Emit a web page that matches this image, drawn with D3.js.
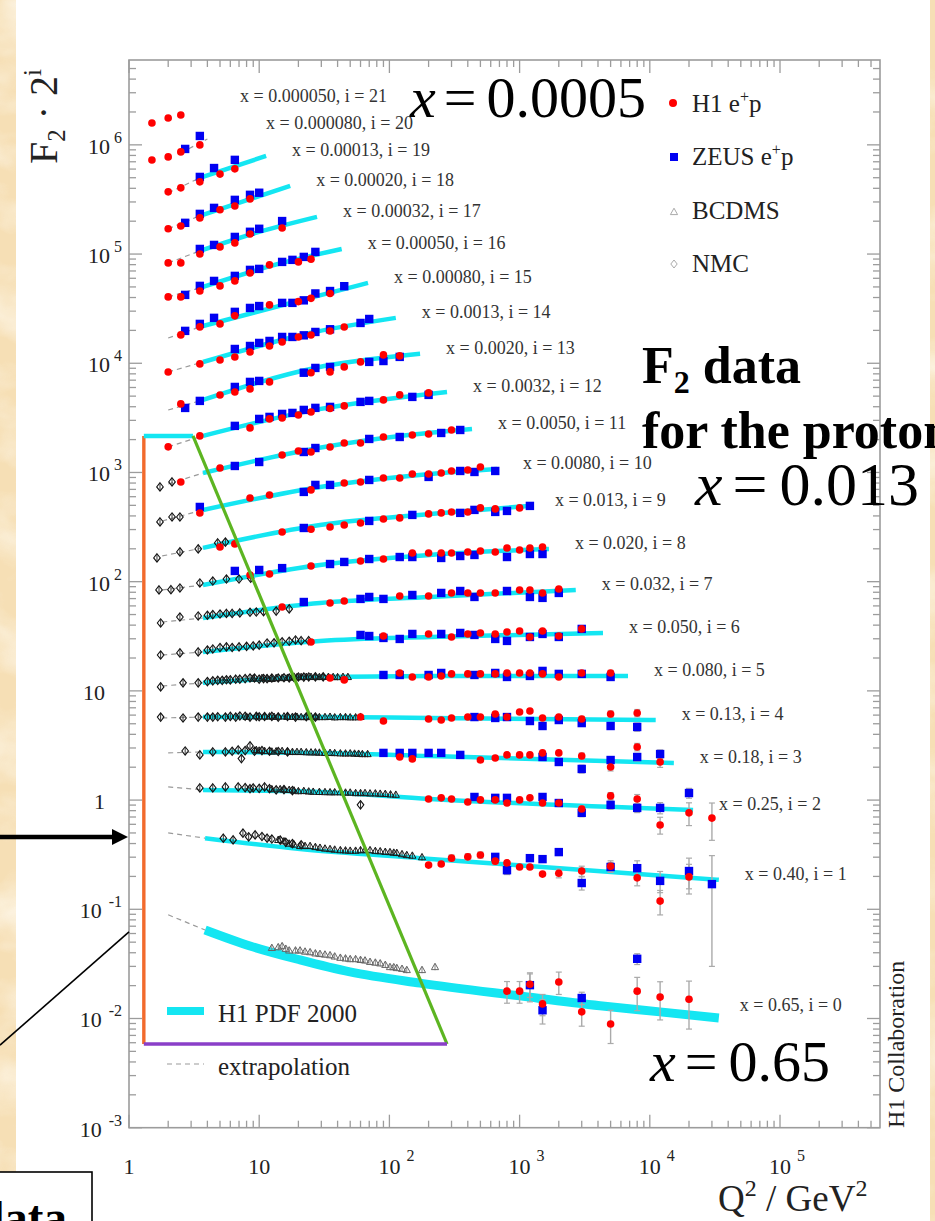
<!DOCTYPE html>
<html><head><meta charset="utf-8">
<script src="https://cdn.jsdelivr.net/npm/d3@7"></script>
<style>
html,body{margin:0;padding:0;background:#f6e0b8;}
svg{display:block;}
text{font-family:"Liberation Serif","Times New Roman",serif;}
</style></head><body>
<svg id="chart" width="935" height="1221"></svg>
<script>
// ---------------- data ----------------
// Bjorken x of each bin; index = i (plotted value is F2 * 2^i)
const binX = ["0.65","0.40","0.25","0.18","0.13","0.080","0.050","0.032","0.020","0.013",
  "0.0080","0.0050","0.0032","0.0020","0.0013","0.00080","0.00050","0.00032","0.00020","0.00013",
  "0.000080","0.000050"];

// H1 e+p : [i, Q2, F2, err]
const h1Points = [
 [21,1.5,0.757],[21,2,0.84],[21,2.5,0.896],
 [20,1.5,0.694],[20,2,0.74],[20,2.5,0.822],[20,3.5,0.953],
 [19,2,0.708],[19,2.5,0.77],[19,3.5,0.874],[19,5,1.03],[19,6.5,1.15],
 [18,2,0.65],[18,2.5,0.69],[18,3.5,0.818],[18,5,0.97],[18,6.5,1.05],[18,8.5,1.22],
 [17,2,0.633],[17,2.5,0.633],[17,3.5,0.765],[17,5,0.887],[17,6.5,0.965],[17,8.5,1.166],[17,15,1.32],
 [16,2,0.618],[16,2.5,0.618],[16,3.5,0.70],[16,5,0.78],[16,6.5,0.866],[16,8.5,1.025],[16,12,1.214],[16,20,1.293],[16,25,1.37],
 [15,2.5,0.555],[15,3.5,0.657],[15,5,0.70],[15,6.5,0.829],[15,12,1.045],[15,20,1.12],[15,25,1.2],[15,35,1.33],
 [14,2,0.508],[14,3.5,0.602],[14,5,0.654],[14,6.5,0.697],[14,8.5,0.775],[14,12,0.879],[14,15,0.957],[14,20,1.063],[14,25,1.109],[14,35,1.206],[14,45,1.313],
 [13,2.5,0.518],[13,5,0.626],[13,6.5,0.667],[13,8.5,0.711],[13,12,0.824],[13,25,1.0],[13,35,1.017],[13,45,1.13],[13,60,1.256],[13,90,1.456],[13,120,1.425],
 [12,2,0.419],[12,3.5,0.528],[12,8.5,0.625],[12,12,0.755],[12,15,0.77],[12,20,0.82],[12,25,0.875],[12,35,0.94],[12,45,0.994],[12,90,1.128],[12,120,1.253],[12,200,1.307],
 [11,2.5,0.40],[11,5,0.537],[11,15,0.706],[11,20,0.768],[11,25,0.752],[11,35,0.836],[11,45,0.909],[11,60,0.909],[11,90,1.032],[11,150,1.077],[11,200,1.1],[11,300,1.196],
 [10,3.5,0.416],[10,8.5,0.57],[10,12,0.608],[10,25,0.676],[10,45,0.783],[10,60,0.80],[10,90,0.87],[10,120,0.87],[10,150,0.947],[10,200,0.947],[10,250,0.967],[10,300,1.008],[10,400,1.03],[10,500,1.097],
 [9,5,0.406],[9,6.5,0.433],[9,15,0.557],[9,25,0.59],[9,35,0.619],[9,45,0.646],[9,60,0.674],[9,90,0.733],[9,120,0.749],[9,200,0.815],[9,250,0.833],[9,300,0.85],[9,400,0.85],[9,500,0.925],[9,650,0.906],[9,1000,0.925],
 [8,8.5,0.45],[8,12,0.459],[8,25,0.544],[8,60,0.604],[8,90,0.63],[8,150,0.715],[8,200,0.715],[8,250,0.715],[8,300,0.715],[8,400,0.73],[8,500,0.746],[8,650,0.73],[8,800,0.795],[8,1000,0.762],[8,1200,0.795],[8,1500,0.812],
 [7,15,0.458],[7,35,0.499],[7,45,0.52],[7,120,0.578],[7,200,0.578],[7,300,0.616],[7,400,0.616],[7,500,0.616],[7,650,0.616],[7,1000,0.656],[7,1200,0.656],[7,1500,0.616],[7,2000,0.67],
 [6,25,0.438],[6,90,0.497],[6,200,0.519],[6,300,0.487],[6,400,0.519],[6,500,0.53],[6,650,0.519],[6,800,0.541],[6,1000,0.553],[6,1200,0.487],[6,1500,0.553],[6,2000,0.497],[6,3000,0.577],
 [5,35,0.41],[5,45,0.394],[5,120,0.456],[5,150,0.419],[5,200,0.419],[5,250,0.428],[5,300,0.447],[5,400,0.447],[5,500,0.447],[5,650,0.447],[5,800,0.456],[5,1000,0.456],[5,1200,0.456],[5,1500,0.447],[5,2000,0.419],[5,3000,0.456],[5,5000,0.456,0.025],
 [4,60,0.36],[4,90,0.331],[4,200,0.345],[4,250,0.338],[4,300,0.353],[4,400,0.36],[4,500,0.36],[4,650,0.384],[4,800,0.36],[4,1000,0.40],[4,1200,0.409],[4,1500,0.353],[4,2000,0.36],[4,3000,0.345,0.02],[4,5000,0.384,0.025],[4,8000,0.392,0.03],
 [3,120,0.31],[3,150,0.298],[3,500,0.291],[3,650,0.304],[3,800,0.324],[3,1000,0.324],[3,1200,0.324],[3,1500,0.338],[3,2000,0.338],[3,3000,0.317,0.02],[3,5000,0.251,0.02],[3,8000,0.383,0.03],[3,12000,0.279,0.03],
 [2,200,0.256],[2,250,0.262],[2,300,0.256],[2,400,0.24],[2,500,0.251],[2,650,0.251],[2,800,0.235],[2,1000,0.251],[2,1200,0.262],[2,1500,0.235],[2,2000,0.235],[2,3000,0.207,0.015],[2,5000,0.273,0.02],[2,8000,0.256,0.025],[2,12000,0.148,0.026],[2,20000,0.191,0.045],[2,30000,0.171,0.064],
 [1,200,0.127],[1,250,0.13],[1,300,0.147,0.01],[1,400,0.151,0.01],[1,500,0.157,0.01],[1,650,0.138,0.01],[1,800,0.133],[1,1000,0.122],[1,1200,0.122],[1,1500,0.105],[1,2000,0.107,0.01],[1,3000,0.112,0.012],[1,5000,0.124,0.015],[1,8000,0.097,0.015],[1,12000,0.0594,0.015],[1,20000,0.099,0.03],
 [0,800,0.0178,0.004],[0,1000,0.0178,0.004],[0,1200,0.0206,0.005],[0,1500,0.0136,0.003],[0,2000,0.0216,0.005],[0,3000,0.0115,0.003],[0,5000,0.0089,0.003],[0,8000,0.0178,0.006],[0,12000,0.0157,0.006],[0,20000,0.0150,0.007]
];

// ZEUS e+p : [i, Q2, F2, err]
const zeusPoints = [
 [20,2.7,0.875],[20,3.5,1.15,0.05],
 [19,3.5,0.97],[19,4.5,1.17],[19,6.5,1.39],
 [18,2.7,0.737],[18,3.5,0.89],[18,4.5,1.01],[18,6.5,1.196],[18,8.5,1.33],[18,10,1.39],
 [17,3.5,0.85],[17,4.5,0.925],[17,6.5,1.095],[17,8.5,1.22],[17,10,1.30],[17,15,1.53],
 [16,2.7,0.645],[16,3.5,0.78],[16,4.5,0.866],[16,6.5,0.963],[16,8.5,1.093],[16,10,1.116],[16,15,1.293],[16,18,1.35],[16,22,1.437],[16,27,1.597],
 [15,2.7,0.604],[15,3.5,0.70],[15,4.5,0.795],[15,6.5,0.902],[15,8.5,0.98],[15,10,1.02],[15,15,1.09],[15,18,1.09],[15,22,1.15],[15,27,1.33],[15,35,1.40],[15,45,1.55],
 [14,6.5,0.825],[14,8.5,0.879],[14,10,0.937],[14,12,0.977],[14,15,1.063],[14,18,1.063],[14,22,1.10],[14,27,1.181],[14,35,1.25],[14,60,1.428],[14,70,1.553],
 [13,2.7,0.476],[13,3.5,0.552],[13,6.5,0.741],[13,8.5,0.824],[13,10,0.841],[13,22,1.0],[13,27,1.106],[13,35,1.13],[13,70,1.256],[13,90,1.28],[13,120,1.396],
 [12,6.5,0.652],[12,10,0.755],[12,12,0.788],[12,15,0.839],[12,18,0.857],[12,22,0.913],[12,27,0.953],[12,35,0.973],[12,60,1.081],[12,70,1.104],[12,150,1.201],[12,200,1.253],
 [11,6.5,0.56],[11,10,0.609],[11,22,0.752],[11,27,0.818],[11,70,0.99],[11,120,1.032],[11,250,1.123],[11,350,1.196],
 [10,3.5,0.472],[10,22,0.648],[10,27,0.751],[10,35,0.751],[10,70,0.834],[10,200,0.889],[10,350,1.008],[10,450,0.987],[10,650,1.008],
 [9,22,0.606],[9,70,0.703],[9,150,0.798],[9,350,0.833],[9,450,0.887],[9,650,0.85],[9,800,0.868],[9,1200,0.965],
 [8,6.5,0.49],[8,10,0.50],[8,15,0.52],[8,35,0.567],[8,45,0.592],[8,70,0.63],[8,120,0.657],[8,150,0.657],[8,250,0.644],[8,350,0.671],[8,450,0.686],[8,800,0.657],[8,1200,0.70],[8,1500,0.70],
 [7,22,0.509],[7,60,0.543],[7,70,0.566],[7,90,0.543],[7,150,0.59],[7,250,0.616],[7,350,0.642],[7,450,0.566],[7,800,0.642],[7,1200,0.566],[7,1500,0.555],[7,2000,0.616],
 [6,60,0.508],[6,70,0.497],[6,90,0.477],[6,120,0.467],[6,150,0.519],[6,250,0.519],[6,350,0.53],[6,450,0.508],[6,650,0.467],[6,800,0.448],[6,1200,0.487],[6,1500,0.519],[6,2000,0.487],[6,3000,0.577],
 [5,90,0.437],[5,120,0.437],[5,200,0.437],[5,250,0.456],[5,450,0.437],[5,650,0.456],[5,800,0.419],[5,1200,0.428],[5,1500,0.476],[5,2000,0.447],[5,3000,0.447],[5,5000,0.419,0.02],
 [4,450,0.36],[4,650,0.353],[4,800,0.36],[4,1200,0.331],[4,1500,0.298,0.015],[4,2000,0.338],[4,3000,0.317,0.015],[4,5000,0.298,0.02],[4,8000,0.292,0.025],
 [3,90,0.338],[3,120,0.338],[3,150,0.338],[3,200,0.338],[3,250,0.338],[3,350,0.324],[3,1500,0.31],[3,2000,0.279],[3,3000,0.241,0.02],[3,5000,0.291,0.02],[3,8000,0.31,0.025],[3,12000,0.33,0.03],
 [2,450,0.267],[2,650,0.262],[2,800,0.262],[2,1500,0.267],[2,2000,0.235],[2,3000,0.191,0.015],[2,5000,0.226,0.02],[2,8000,0.212,0.02],[2,12000,0.212,0.025],[2,20000,0.29,0.03],
 [1,650,0.151],[1,800,0.114,0.01],[1,1200,0.147],[1,1500,0.144],[1,2000,0.167],[1,3000,0.087,0.012],[1,5000,0.122,0.012],[1,8000,0.119,0.02],[1,12000,0.091,0.02],[1,20000,0.112,0.035],[1,30000,0.085,0.07],
 [0,1200,0.0202,0.006],[0,1500,0.0119,0.003],[0,3000,0.0154,0.002],[0,8000,0.0352,0.004]
];

// NMC : [i, Q2, F2]
const nmcPoints = [
 [11,1.73,0.36],[11,2.14,0.40],
 [10,1.73,0.344],[10,2.14,0.382],[10,2.46,0.382],
 [9,1.64,0.322],[9,2.46,0.366],[9,3.4,0.39],[9,4.8,0.442],[9,5.5,0.45],
 [8,1.7,0.328],[8,2.1,0.33],[8,2.46,0.342],[8,3.5,0.38],[8,4.4,0.396],[8,5.6,0.413],[8,7.0,0.413],[8,8.6,0.42],
 [7,1.75,0.327],[7,2.46,0.371],[7,3.4,0.379],[7,4.0,0.385],[7,4.4,0.39],[7,5.0,0.395],[7,5.6,0.40],[7,6.2,0.40],[7,7.1,0.404],[7,8.5,0.41],[7,9.5,0.412],[7,10.8,0.415],[7,13.5,0.42],[7,17,0.44],
 [6,1.75,0.333],[6,2.46,0.348],[6,3.4,0.355],[6,4.0,0.37],[6,4.4,0.378],[6,5.0,0.39],[6,5.6,0.395],[6,6.2,0.39],[6,7.0,0.395],[6,8,0.40],[6,9,0.403],[6,10,0.41],[6,11.5,0.429],[6,13,0.43],[6,15,0.44],[6,17,0.445],[6,19,0.457],[6,21,0.45],[6,24,0.45],
 [5,1.75,0.34],[5,2.6,0.37],[5,3.4,0.37],[5,4.0,0.38],[5,4.4,0.386],[5,4.8,0.39],[5,5.2,0.39],[5,5.6,0.395],[5,6.0,0.394],[5,6.6,0.40],[5,7.1,0.40],[5,7.8,0.405],[5,8.5,0.41],[5,9.2,0.41],[5,10,0.40],[5,10.8,0.405],[5,11.5,0.404],[5,12.5,0.41],[5,14,0.41],[5,15.5,0.412],[5,17,0.41],[5,18.5,0.415],[5,20,0.419],[5,22,0.418],[5,24,0.419],[5,27,0.42],[5,31,0.42],
 [4,1.75,0.36],[4,2.6,0.353],[4,3.4,0.36],[4,4.0,0.36],[4,4.4,0.36],[4,4.8,0.362],[4,5.5,0.36],[4,6.0,0.365],[4,6.6,0.36],[4,7.1,0.368],[4,7.8,0.366],[4,8.5,0.36],[4,9.5,0.365],[4,10,0.362],[4,11,0.364],[4,12.5,0.365],[4,14,0.36],[4,16.5,0.364],[4,19,0.36],[4,23,0.362],[4,27,0.36],
 [3,2.7,0.352],[3,3.5,0.324],[3,4.4,0.345],[3,5.5,0.345],[3,6.2,0.35],[3,6.9,0.36],[3,7.3,0.30],[3,7.8,0.355],[3,8.5,0.392],[3,9.2,0.35],[3,10.5,0.355],[3,12,0.35],[3,14,0.348],[3,16.5,0.345],
 [2,3.5,0.323],[2,4.4,0.323],[2,5.5,0.33],[2,6.9,0.33],[2,7.8,0.325],[2,8.5,0.318],[2,9,0.323],[2,10,0.32],[2,11,0.33],[2,12,0.318],[2,13.5,0.31],[2,15.5,0.312],[2,18,0.305],[2,60,0.226],
 [1,5.3,0.224],[1,6.3,0.216],[1,7.5,0.249],[1,8.3,0.23],[1,9.3,0.24],[1,10.5,0.232],[1,11.5,0.224],[1,12.5,0.22],[1,14.5,0.215],[1,16,0.205],[1,18,0.2],[1,21,0.195]
];

// BCDMS : [i, Q2, F2]
const bcdmsPoints = [
 [5,9,0.405],[5,10.5,0.41],[5,11.5,0.408],[5,12.5,0.402],[5,13.5,0.41],[5,15,0.41],[5,16.5,0.412],[5,18,0.415],[5,19.5,0.418],[5,21,0.419],[5,23,0.42],[5,25,0.42],[5,27,0.419],[5,29,0.419],[5,31,0.42],[5,34,0.42],[5,37,0.419],[5,40,0.418],[5,44,0.42],[5,48,0.419],
 [4,8,0.362],[4,9.5,0.366],[4,11,0.364],[4,12,0.365],[4,13,0.362],[4,14,0.364],[4,15.5,0.365],[4,16.5,0.362],[4,18,0.362],[4,19.5,0.362],[4,21,0.36],[4,23,0.36],[4,25,0.364],[4,27,0.36],[4,29,0.36],[4,32,0.36],[4,35,0.362],[4,38,0.358],[4,42,0.36],[4,46,0.36],[4,50,0.358],[4,55,0.358],[4,60,0.362],
 [3,9.5,0.36],[3,10,0.355],[3,11,0.352],[3,12.5,0.348],[3,13.5,0.35],[3,15,0.352],[3,16.5,0.348],[3,18,0.345],[3,19.5,0.345],[3,21,0.345],[3,23,0.343],[3,25,0.342],[3,27,0.342],[3,29,0.34],[3,32,0.338],[3,35,0.338],[3,38,0.337],[3,42,0.335],[3,46,0.334],[3,50,0.335],[3,54,0.333],[3,58,0.332],[3,62,0.33],[3,68,0.33],
 [2,12.5,0.315],[2,14.5,0.315],[2,15.5,0.312],[2,17,0.31],[2,18.5,0.306],[2,20,0.302],[2,22,0.303],[2,24,0.30],[2,26,0.298],[2,29,0.297],[2,32,0.296],[2,35,0.295],[2,38,0.295],[2,42,0.295],[2,46,0.293],[2,50,0.293],[2,55,0.29],[2,60,0.29],[2,65,0.29],[2,71,0.288],[2,78,0.288],[2,85,0.286],[2,93,0.285],[2,102,0.282],[2,112,0.28],
 [1,14,0.216],[1,15.5,0.21],[1,17,0.20],[1,18.5,0.196],[1,20.6,0.19],[1,22.5,0.19],[1,24.6,0.19],[1,27,0.186],[1,29.3,0.183],[1,32,0.18],[1,35,0.178],[1,38,0.176],[1,42,0.174],[1,46,0.173],[1,50,0.172],[1,55,0.172],[1,60,0.174],[1,65,0.174],[1,71,0.174],[1,78,0.171],[1,85,0.17],[1,93,0.168],[1,101,0.167],[1,108,0.165],[1,114,0.164],[1,125,0.16],[1,136,0.157],[1,150,0.155],[1,178,0.15],
 [0,12.5,0.0443],[0,14,0.045],[0,15,0.046],[0,16,0.0435],[0,17,0.042],[0,19,0.042],[0,20.6,0.042],[0,22.5,0.041],[0,24.6,0.0405],[0,27,0.0395],[0,29.3,0.039],[0,32,0.0385],[0,35,0.038],[0,38,0.037],[0,42,0.036],[0,46,0.0355],[0,50,0.035],[0,55,0.035],[0,60,0.0344],[0,65,0.034],[0,71,0.033],[0,78,0.0325],[0,85,0.032],[0,93,0.031],[0,101,0.0296],[0,108,0.0295],[0,114,0.029],[0,125,0.0285],[0,136,0.0278],[0,178,0.0278],[0,224,0.0296]
];

// H1 PDF 2000 fit curves : [i, Q2, F2]
const pdfFit = [
 [19,3.5,0.95],[19,11.3,1.51],
 [18,3.5,0.854],[18,17.3,1.61],
 [17,3.5,0.815],[17,10,1.216],[17,27.8,1.67],
 [16,3.5,0.748],[16,15,1.266],[16,43,1.70],
 [15,3.7,0.67],[15,24.6,1.21],[15,68.5,1.66],
 [14,3.7,0.627],[14,26.8,1.181],[14,112,1.59],
 [13,3.7,0.563],[13,26.8,1.106],[13,172,1.49],
 [12,3.7,0.528],[12,26.8,0.913],[12,277,1.335],
 [11,3.7,0.483],[11,28.3,0.818],[11,120,1.054],[11,431,1.222],
 [10,3.7,0.443],[10,29.3,0.72],[10,205,0.947],[10,670,1.052],
 [9,3.7,0.398],[9,29.3,0.646],[9,205,0.815],[9,1180,0.965],
 [8,3.7,0.364],[8,29.3,0.555],[8,205,0.686],[8,1680,0.778],
 [7,3.7,0.363],[7,29.3,0.499],[7,205,0.566],[7,2700,0.656],
 [6,3.7,0.355],[6,29.3,0.448],[6,205,0.487],[6,4370,0.53],
 [5,3.7,0.37],[5,29.3,0.419],[5,205,0.428],[5,6800,0.428],
 [4,3.7,0.36],[4,29.3,0.36],[4,205,0.353],[4,11100,0.338],
 [3,3.7,0.345],[3,29.3,0.338],[3,205,0.317],[3,15300,0.273],
 [2,3.7,0.31],[2,29.3,0.297],[2,205,0.256],[2,21500,0.203],
 [1,3.84,0.224],[1,20.6,0.178],[1,172,0.147],[1,2030,0.119],[1,33900,0.093],
 [0,3.84,0.0646],[0,8.5,0.0461],[0,20.6,0.0344],[0,49.8,0.0267],[0,172,0.0211],[0,1007,0.0161],[0,4140,0.0131],[0,11970,0.0115],[0,33900,0.0101]
];

// extrapolation of the fit towards low Q2 : [i, Q2, F2]
const extrapolation = [
 [20,2.5,0.805],[20,4.0,1.08],
 [19,2,0.693],[19,3.5,0.95],
 [18,2,0.65],[18,3.5,0.854],
 [17,2,0.633],[17,3.5,0.815],
 [16,2,0.618],[16,3.5,0.748],
 [15,2,0.52],[15,3.7,0.67],
 [14,2,0.508],[14,3.7,0.627],
 [13,2,0.456],[13,3.7,0.563],
 [12,2,0.419],[12,3.7,0.528],
 [11,2,0.383],[11,3.7,0.483],
 [10,1.8,0.351],[10,3.7,0.443],
 [9,1.8,0.336],[9,3.7,0.398],
 [8,1.8,0.328],[8,3.7,0.364],
 [7,1.8,0.334],[7,3.7,0.363],
 [6,1.8,0.333],[6,3.7,0.355],
 [5,1.8,0.347],[5,3.7,0.37],
 [4,1.8,0.353],[4,3.7,0.36],
 [3,2,0.338],[3,3.7,0.345],
 [2,2,0.33],[2,3.7,0.31],
 [1,2,0.25],[1,3.84,0.224],
 [0,2,0.089],[0,3.84,0.0646]
];

// highlighted region (Q2 in GeV^2, value of F2*2^i)
const guideQ2 = [1.3, 3.1, 277];
const guideVal = [2160, 0.00584];

// ---------------- drawing ----------------
const W = 935, H = 1221;
const svg = d3.select("#chart");
const plot = {left:129, right:880, top:60, bottom:1127.7};
const x = d3.scaleLog().domain([1, Math.pow(10,5.768)]).range([plot.left, plot.right]);
const y = d3.scaleLog().domain([1e-3, Math.pow(10,6.777)]).range([plot.bottom, plot.top]);
const scaled = (i,f) => f*Math.pow(2,i);

// parchment background
const defs = svg.append("defs");
const pf = defs.append("filter").attr("id","parch").attr("x",0).attr("y",0).attr("width",1).attr("height",1);
pf.append("feTurbulence").attr("type","fractalNoise").attr("baseFrequency","0.012 0.018").attr("numOctaves",4).attr("seed",5);
pf.append("feColorMatrix").attr("type","matrix")
  .attr("values","0 0 0 0 1  0 0 0 0 0.97  0 0 0 0 0.9  1.8 0 0 0 -0.75");
svg.append("rect").attr("width",W).attr("height",H).attr("fill","#f6dfb5");
svg.append("rect").attr("width",W).attr("height",H).attr("filter","url(#parch)").attr("opacity",0.85);

// white slide area
svg.append("rect").attr("x",16).attr("y",0).attr("width",914).attr("height",H).attr("fill","#ffffff");

// frame and ticks
const axisColor = "#9c9c9c";
const gAx = svg.append("g");
gAx.append("rect").attr("x",plot.left).attr("y",plot.top)
  .attr("width",plot.right-plot.left).attr("height",plot.bottom-plot.top)
  .attr("fill","none").attr("stroke",axisColor).attr("stroke-width",1.6);

const yTicks = [], xTicks = [];
for (let e=-3;e<=6;e++) for (let m=1;m<10;m++){ const v=m*Math.pow(10,e); if (v<=y.domain()[1]) yTicks.push({v,major:m===1,e}); }
for (let e=0;e<=5;e++) for (let m=1;m<10;m++){ const v=m*Math.pow(10,e); if (v<=x.domain()[1]) xTicks.push({v,major:m===1,e}); }
const tl = d => d.major ? 13 : 7;
yTicks.forEach(t=>{
  const py = y(t.v);
  gAx.append("line").attr("x1",plot.left).attr("x2",plot.left+tl(t)).attr("y1",py).attr("y2",py).attr("stroke",axisColor).attr("stroke-width",1.3);
  gAx.append("line").attr("x1",plot.right).attr("x2",plot.right-tl(t)).attr("y1",py).attr("y2",py).attr("stroke",axisColor).attr("stroke-width",1.3);
});
xTicks.forEach(t=>{
  const px = x(t.v);
  gAx.append("line").attr("x1",px).attr("x2",px).attr("y1",plot.bottom).attr("y2",plot.bottom-tl(t)).attr("stroke",axisColor).attr("stroke-width",1.3);
  gAx.append("line").attr("x1",px).attr("x2",px).attr("y1",plot.top).attr("y2",plot.top+tl(t)).attr("stroke",axisColor).attr("stroke-width",1.3);
});

// tick labels
const lab = svg.append("g").attr("fill","#222").attr("font-size",22);
yTicks.filter(t=>t.major).forEach(t=>{
  const py = y(t.v)+9;
  if (t.e===0 || t.e===1){
    lab.append("text").attr("x",105).attr("y",py).attr("text-anchor","end").text(t.e===0?"1":"10");
  } else {
    const tx = lab.append("text").attr("x",122).attr("y",py).attr("text-anchor","end");
    tx.append("tspan").text("10");
    tx.append("tspan").attr("dx",t.e<0?7:4).attr("dy",-11).attr("font-size",16).text(String(t.e));
  }
});
xTicks.filter(t=>t.major).forEach(t=>{
  const px = x(t.v), py = 1174;
  if (t.e===0 || t.e===1){
    lab.append("text").attr("x",px).attr("y",py).attr("text-anchor","middle").text(t.e===0?"1":"10");
  } else {
    const tx = lab.append("text").attr("x",px-11).attr("y",py);
    tx.append("tspan").text("10");
    tx.append("tspan").attr("dx",6).attr("dy",-13).attr("font-size",16).text(String(t.e));
  }
});

// axis titles
const yt = svg.append("text").attr("transform","translate(57,164) rotate(-90)").attr("font-size",40).attr("fill","#222");
yt.append("tspan").text("F");
yt.append("tspan").attr("dy",8).attr("font-size",25).text("2");
yt.append("tspan").attr("dy",-8).attr("dx",10).text("·");
yt.append("tspan").attr("dx",10).text("2");
yt.append("tspan").attr("dy",-16).attr("font-size",25).text("i");
const xt = svg.append("text").attr("x",718).attr("y",1211).attr("font-size",37).attr("fill","#222");
xt.append("tspan").text("Q");
xt.append("tspan").attr("dy",-15).attr("font-size",24).text("2");
xt.append("tspan").attr("dy",15).text(" / GeV");
xt.append("tspan").attr("dy",-15).attr("font-size",24).text("2");

svg.append("text").attr("transform","translate(904,1128) rotate(-90)").attr("font-size",24).attr("fill","#222").text("H1 Collaboration");

// group helpers
const byBin = arr => d3.groups(arr, d=>d[0]);
const lineGen = d3.line().x(d=>x(d[1])).y(d=>y(scaled(d[0],d[2])));

const cyan = "#14e6f2";
const gData = svg.append("g");

// fit curves
byBin(pdfFit).forEach(([i,pts])=>{
  gData.append("path").attr("d", lineGen.curve(d3.curveMonotoneX)(pts))
    .attr("fill","none").attr("stroke",cyan).attr("stroke-width", i===0?9:4.5).attr("stroke-linecap","butt");
});
// extrapolations
byBin(extrapolation).forEach(([i,pts])=>{
  gData.append("path").attr("d", lineGen.curve(d3.curveLinear)(pts))
    .attr("fill","none").attr("stroke","#9a9a9a").attr("stroke-width",1.2).attr("stroke-dasharray","5,4");
});

// error bars
function errBars(arr){
  arr.filter(d=>d[3]).forEach(d=>{
    const v = scaled(d[0],d[2]), e = scaled(d[0],d[3]);
    const px = x(d[1]), y1 = y(v+e), y2 = y(Math.max(v-e, v*0.05));
    gData.append("line").attr("x1",px).attr("x2",px).attr("y1",y1).attr("y2",y2).attr("stroke","#aaa").attr("stroke-width",1.4);
    [y1,y2].forEach(yy=>gData.append("line").attr("x1",px-3).attr("x2",px+3).attr("y1",yy).attr("y2",yy).attr("stroke","#aaa").attr("stroke-width",1.2));
  });
}

// fixed target markers (with small error bars)
const ftBar = d => {
  const v = scaled(d[0],d[2]), px = x(d[1]);
  gData.append("line").attr("x1",px).attr("x2",px).attr("y1",y(v*1.07)).attr("y2",y(v/1.07))
    .attr("stroke", d[0]===0?"#888":"#333").attr("stroke-width",1);
};
nmcPoints.forEach(ftBar); bcdmsPoints.forEach(ftBar);
gData.selectAll(".nmc").data(nmcPoints).join("path")
  .attr("transform", d=>`translate(${x(d[1])},${y(scaled(d[0],d[2]))})`)
  .attr("d","M0,-4.2L3.3,0L0,4.2L-3.3,0Z").attr("fill","none").attr("stroke","#111").attr("stroke-width",1.1);
gData.selectAll(".bcdms").data(bcdmsPoints).join("path")
  .attr("transform", d=>`translate(${x(d[1])},${y(scaled(d[0],d[2]))})`)
  .attr("d","M0,-3.8L3.6,2.6L-3.6,2.6Z").attr("fill","none").attr("stroke", d=>d[0]===0?"#666":"#1a1a1a").attr("stroke-width",1);

errBars(h1Points); errBars(zeusPoints);
gData.selectAll(".zeus").data(zeusPoints).join("rect")
  .attr("x", d=>x(d[1])-4.2).attr("y", d=>y(scaled(d[0],d[2]))-4.2)
  .attr("width",8.4).attr("height",8.4).attr("fill","#0000f2");
gData.selectAll(".h1").data(h1Points).join("circle")
  .attr("cx", d=>x(d[1])).attr("cy", d=>y(scaled(d[0],d[2]))).attr("r",3.8).attr("fill","#ff0000");

// bin labels, placed after the end of each fit curve
const fitEnds = new Map(byBin(pdfFit).map(([i,pts])=>[i, pts[pts.length-1]]));
const gLab = svg.append("g").attr("font-size",18).attr("fill","#333");
binX.forEach((xs,i)=>{
  let lx, ly;
  if (fitEnds.has(i)){
    const e = fitEnds.get(i);
    lx = x(e[1]) + 26; ly = y(scaled(i,e[2]));
    if (i===0){ lx -= 5; ly -= 7; }
  } else {
    const e = fitEnds.get(19);
    lx = x(e[1]) + 26 - 26*(i-19); ly = y(scaled(19,e[2])) - 27*(i-19);
  }
  gLab.append("text").attr("x",lx).attr("y",ly).text(`x = ${xs}, i = ${i}`);
});

// legend (experiments)
const lg = svg.append("g").attr("font-size",25).attr("fill","#222");
lg.append("circle").attr("cx",673).attr("cy",103).attr("r",4).attr("fill","#ff0000");
const t1 = lg.append("text").attr("x",692).attr("y",112); t1.append("tspan").text("H1 e"); t1.append("tspan").attr("dy",-10).attr("font-size",16).text("+"); t1.append("tspan").attr("dy",10).text("p");
lg.append("rect").attr("x",670).attr("y",153).attr("width",8).attr("height",8).attr("fill","#0000f2");
const t2 = lg.append("text").attr("x",692).attr("y",165); t2.append("tspan").text("ZEUS e"); t2.append("tspan").attr("dy",-10).attr("font-size",16).text("+"); t2.append("tspan").attr("dy",10).text("p");
lg.append("path").attr("transform","translate(674,212)").attr("d","M0,-3.8L3.6,2.6L-3.6,2.6Z").attr("fill","none").attr("stroke","#aaa").attr("stroke-width",1);
lg.append("text").attr("x",692).attr("y",219).text("BCDMS");
lg.append("path").attr("transform","translate(674,264)").attr("d","M0,-4L3.2,0L0,4L-3.2,0Z").attr("fill","none").attr("stroke","#aaa").attr("stroke-width",1);
lg.append("text").attr("x",692).attr("y",272).text("NMC");

// legend (curves)
lg.append("line").attr("x1",167).attr("x2",204).attr("y1",1011).attr("y2",1011).attr("stroke",cyan).attr("stroke-width",8);
lg.append("text").attr("x",218).attr("y",1022).text("H1 PDF 2000");
lg.append("line").attr("x1",167).attr("x2",204).attr("y1",1064).attr("y2",1064).attr("stroke","#9a9a9a").attr("stroke-width",1.2).attr("stroke-dasharray","5,4");
lg.append("text").attr("x",218).attr("y",1075).text("extrapolation");

// highlighted region
const gq = guideQ2.map(q=>x(q)), gv = guideVal.map(v=>y(v));
svg.append("line").attr("x1",gq[0]).attr("x2",gq[0]).attr("y1",gv[0]).attr("y2",gv[1]).attr("stroke","#f26a2c").attr("stroke-width",3.4);
svg.append("line").attr("x1",gq[0]).attr("x2",gq[1]).attr("y1",gv[0]).attr("y2",gv[0]).attr("stroke",cyan).attr("stroke-width",4.5);
svg.append("line").attr("x1",gq[1]).attr("x2",gq[2]).attr("y1",gv[0]).attr("y2",gv[1]).attr("stroke","#5cb521").attr("stroke-width",3.2);
svg.append("line").attr("x1",gq[0]).attr("x2",gq[2]).attr("y1",gv[1]).attr("y2",gv[1]).attr("stroke","#8a3fc8").attr("stroke-width",3.6);

// pointers on the left
svg.append("line").attr("x1",0).attr("x2",plot.left-14).attr("y1",y(0.46)).attr("y2",y(0.46)).attr("stroke","#000").attr("stroke-width",4.5);
svg.append("path").attr("d",`M${plot.left-1},${y(0.46)}L${plot.left-17},${y(0.46)-8}L${plot.left-17},${y(0.46)+8}Z`).attr("fill","#000");
svg.append("line").attr("x1",plot.left).attr("y1",y(0.062)).attr("x2",0).attr("y2",y(0.0057)).attr("stroke","#000").attr("stroke-width",1.6);

// big annotations
function mathLabel(x0,y0,size,num,gap1,gap2){
  const t = svg.append("text").attr("x",x0).attr("y",y0).attr("font-size",size).attr("fill","#000");
  t.append("tspan").attr("font-style","italic").text("x");
  t.append("tspan").attr("dx",gap1).text("=");
  t.append("tspan").attr("dx",gap2).text(num);
}
mathLabel(410,117,58,"0.0005",8,10);
mathLabel(695,505,62,"0.013",10,12);
mathLabel(650,1081,58,"0.65",9,11);

const fd = svg.append("text").attr("x",642).attr("y",383).attr("font-size",52).attr("font-weight","bold").attr("fill","#000");
fd.append("tspan").text("F");
fd.append("tspan").attr("dy",10).attr("font-size",32).text("2");
fd.append("tspan").attr("dy",-10).text(" data");
svg.append("text").attr("x",642).attr("y",448).attr("font-size",52).attr("font-weight","bold").attr("fill","#000").text("for the proton");

// boxed caption at bottom left
svg.append("rect").attr("x",-20).attr("y",1172).attr("width",112).attr("height",80).attr("fill","#fff").attr("stroke","#000").attr("stroke-width",1.6);
svg.append("text").attr("x",67).attr("y",1233).attr("text-anchor","end").attr("font-size",47).attr("font-weight","bold").attr("fill","#000").text("data");
</script>
</body></html>
